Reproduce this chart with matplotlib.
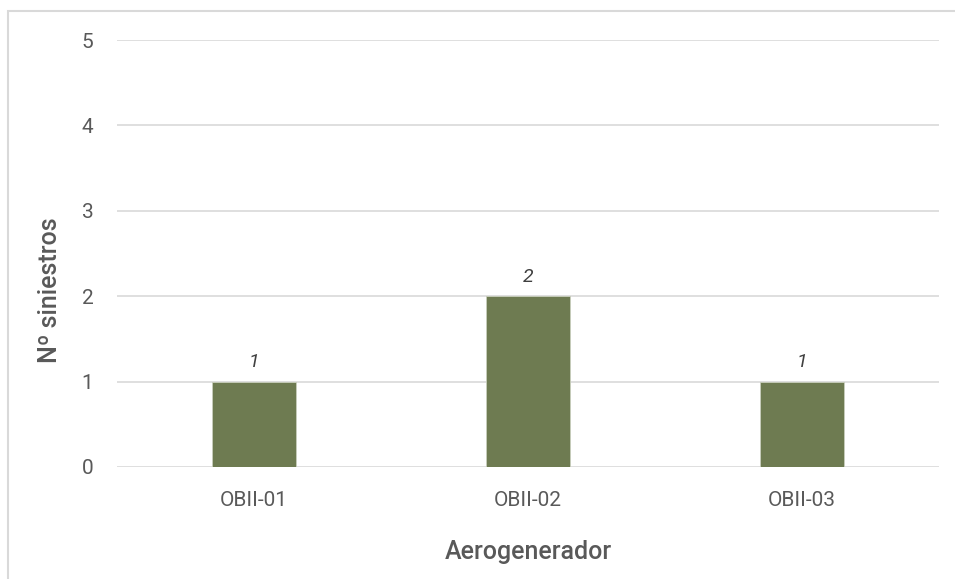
import matplotlib
matplotlib.use("Agg")
import matplotlib.pyplot as plt
from matplotlib.patches import Rectangle

# data
categories = ["OBII-01", "OBII-02", "OBII-03"]
counts = [1, 2, 1]
y_ticks = [0, 1, 2, 3, 4, 5]

bar_color = "#6e7b51"
grid_color = "#d9d9d9"
text_color = "#595959"

plt.rcParams['font.family'] = ['Roboto', 'DejaVu Sans']

fig = plt.figure(figsize=(9.55, 5.79), dpi=100)
ax = fig.add_axes([117/955, 1 - 467/579, (939-117)/955, (467-40)/579])

x = range(len(categories))
bars = ax.bar(x, counts, width=0.31, color=bar_color, edgecolor="#c9cfbd",
              linewidth=0.6, zorder=3)

for xi, v in zip(x, counts):
    ax.text(xi, v + 0.12, str(v), ha='center', va='bottom', fontsize=14,
            style='italic', color="#404040")

ax.set_xlim(-0.5, len(categories) - 0.5)
ax.set_ylim(0, 5)
ax.set_yticks(y_ticks)
ax.set_xticks(list(x))
ax.set_xticklabels(categories)
ax.yaxis.grid(True, color=grid_color, linewidth=1.2, zorder=0)
ax.set_axisbelow(True)
for s in ax.spines.values():
    s.set_visible(False)
ax.tick_params(axis='both', length=0, labelsize=15, labelcolor=text_color)
ax.tick_params(axis='y', pad=17)
ax.tick_params(axis='x', pad=17)

ax.set_xlabel("Aerogenerador", fontsize=18, color=text_color,
              fontweight='medium', labelpad=22)
ax.set_ylabel("Nº siniestros", fontsize=18, color=text_color,
              fontweight='medium')
ax.yaxis.set_label_coords(-0.067, 0.415)

# chart frame (only left and top edges visible)
fig.add_artist(Rectangle((8/955, -0.1), 1.2, 1 - 10.5/579 + 0.1,
                         transform=fig.transFigure, fill=False,
                         edgecolor=grid_color, linewidth=1.5))

fig.savefig("out.png", dpi=100)
